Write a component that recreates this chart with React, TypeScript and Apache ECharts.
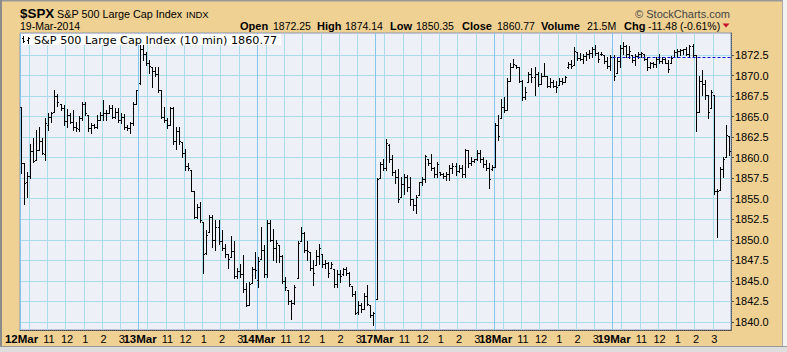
import React, { useEffect, useRef } from "react";
import * as echarts from "echarts";

const FONT = "'Liberation Sans', Arial, sans-serif";

const DAYS = ["12Mar", "13Mar", "14Mar", "17Mar", "18Mar", "19Mar"];
const TIMES = [
  "09:30", "09:40", "09:50", "10:00", "10:10", "10:20", "10:30", "10:40", "10:50",
  "11:00", "11:10", "11:20", "11:30", "11:40", "11:50", "12:00", "12:10", "12:20",
  "12:30", "12:40", "12:50", "13:00", "13:10", "13:20", "13:30", "13:40", "13:50",
  "14:00", "14:10", "14:20", "14:30", "14:40", "14:50", "15:00", "15:10", "15:20",
  "15:30", "15:40", "15:50",
];
const HOUR_LABELS: Record<string, string> = { "11:00": "11", "12:00": "12", "13:00": "1", "14:00": "2", "15:00": "3" };
const HOUR_LINES = ["10:00", "11:00", "12:00", "13:00", "14:00", "15:00"];
const Y_TICKS = [1840, 1842.5, 1845, 1847.5, 1850, 1852.5, 1855, 1857.5, 1860, 1862.5, 1865, 1867.5, 1870, 1872.5];
const PREV_CLOSE = 1872.25;

type Bar = [number, number, number, number]; // open, high, low, close

const MAR12: Bar[] = [
  [1866.15, 1866.2, 1858.1, 1859.3], [1859.3, 1859.3, 1854.4, 1856.9], [1857.0, 1858.3, 1855.2, 1857.8],
  [1857.8, 1861.7, 1857.5, 1860.8], [1860.8, 1862.4, 1859.5, 1859.6], [1859.7, 1863.4, 1859.7, 1861.0],
  [1861.0, 1863.8, 1860.9, 1862.0], [1862.0, 1862.4, 1860.5, 1860.6], [1860.5, 1864.8, 1859.7, 1864.2],
  [1864.0, 1865.4, 1863.4, 1865.0], [1865.0, 1865.6, 1864.4, 1865.4], [1865.6, 1868.3, 1865.6, 1867.5],
  [1867.5, 1867.8, 1866.3, 1866.8], [1866.5, 1866.5, 1865.8, 1866.0], [1866.0, 1866.4, 1864.0, 1864.5],
  [1864.5, 1865.9, 1863.7, 1865.2], [1865.2, 1865.5, 1864.2, 1864.4], [1864.4, 1865.8, 1863.4, 1863.8],
  [1863.8, 1864.3, 1863.2, 1863.6], [1863.5, 1865.1, 1863.2, 1864.8], [1864.8, 1866.8, 1864.6, 1866.6],
  [1866.6, 1866.8, 1865.2, 1865.4], [1865.2, 1865.2, 1863.2, 1863.6], [1863.6, 1864.2, 1863.0, 1864.0],
  [1864.0, 1864.1, 1863.6, 1863.8], [1863.8, 1865.2, 1863.6, 1864.6], [1864.6, 1865.6, 1864.6, 1865.2],
  [1865.2, 1867.0, 1864.6, 1865.4], [1865.4, 1865.8, 1864.6, 1865.5], [1865.5, 1866.4, 1865.4, 1866.0],
  [1866.0, 1866.4, 1864.8, 1865.0], [1865.0, 1866.0, 1864.8, 1865.6], [1865.6, 1866.0, 1864.4, 1864.6],
  [1864.6, 1865.4, 1864.2, 1865.0], [1865.0, 1865.3, 1863.5, 1863.8], [1863.8, 1864.0, 1863.4, 1863.6],
  [1863.6, 1864.4, 1863.0, 1864.2], [1864.2, 1866.8, 1864.0, 1866.6], [1866.6, 1868.3, 1866.6, 1868.2],
];

const MAR13: Bar[] = [
  [1869.06, 1873.7, 1869.0, 1873.2], [1873.2, 1874.4, 1871.9, 1872.6], [1872.6, 1872.9, 1871.3, 1871.6],
  [1871.6, 1871.9, 1870.3, 1871.2], [1871.0, 1871.1, 1868.6, 1870.6], [1870.6, 1871.1, 1869.9, 1870.2],
  [1870.2, 1871.1, 1868.0, 1868.2], [1868.2, 1868.2, 1864.8, 1865.0], [1865.0, 1866.2, 1864.4, 1864.6],
  [1864.6, 1864.8, 1863.6, 1864.0], [1864.0, 1866.2, 1864.0, 1866.0], [1866.0, 1866.2, 1861.7, 1862.0],
  [1862.0, 1863.8, 1861.1, 1863.2], [1863.2, 1863.8, 1861.7, 1862.0], [1861.9, 1861.9, 1860.1, 1860.6],
  [1860.6, 1861.1, 1858.5, 1859.0], [1859.0, 1859.4, 1858.5, 1858.8], [1858.5, 1858.5, 1855.9, 1856.0],
  [1855.9, 1855.9, 1852.6, 1852.8], [1852.8, 1854.4, 1852.6, 1854.0], [1854.0, 1854.6, 1852.2, 1852.4],
  [1852.2, 1852.2, 1845.9, 1848.3], [1848.4, 1851.2, 1848.3, 1850.6], [1851.0, 1853.0, 1851.0, 1852.8],
  [1852.8, 1853.0, 1849.1, 1850.0], [1850.0, 1852.4, 1848.7, 1851.6], [1851.6, 1852.4, 1849.5, 1849.9],
  [1849.9, 1851.2, 1848.7, 1849.0], [1849.0, 1849.5, 1847.9, 1848.3], [1848.3, 1848.3, 1846.5, 1847.6],
  [1847.9, 1850.4, 1847.9, 1848.6], [1848.6, 1849.9, 1845.3, 1845.6], [1845.6, 1846.5, 1845.3, 1846.2],
  [1846.2, 1847.1, 1845.5, 1845.8], [1845.8, 1848.1, 1843.6, 1844.0], [1844.0, 1844.7, 1841.9, 1842.0],
  [1842.0, 1844.9, 1842.0, 1844.6], [1844.7, 1846.7, 1844.7, 1846.4], [1846.4, 1848.5, 1845.3, 1846.34],
];

const MAR14: Bar[] = [
  [1845.07, 1847.9, 1844.3, 1847.4], [1847.7, 1851.6, 1847.7, 1848.8], [1848.8, 1849.3, 1845.5, 1845.8],
  [1845.8, 1852.44, 1845.5, 1852.0], [1852.0, 1852.4, 1849.8, 1850.0], [1850.0, 1851.3, 1847.5, 1849.0],
  [1849.0, 1850.0, 1847.3, 1849.6], [1849.4, 1849.4, 1847.3, 1848.0], [1848.0, 1848.1, 1844.7, 1845.0],
  [1845.0, 1845.5, 1843.9, 1844.2], [1843.9, 1843.9, 1842.2, 1842.5], [1842.5, 1842.6, 1840.4, 1842.3],
  [1842.3, 1844.5, 1842.2, 1844.2], [1845.3, 1849.8, 1845.3, 1849.6], [1849.8, 1851.6, 1849.8, 1850.8],
  [1850.8, 1851.0, 1848.5, 1848.8], [1848.8, 1849.8, 1847.5, 1848.6], [1848.5, 1848.5, 1846.3, 1846.6],
  [1846.6, 1847.5, 1844.5, 1846.0], [1846.9, 1848.8, 1846.9, 1848.0], [1848.0, 1849.5, 1847.1, 1849.0],
  [1848.3, 1848.3, 1846.7, 1847.0], [1847.0, 1847.5, 1846.6, 1847.2], [1847.2, 1847.3, 1845.5, 1846.0],
  [1846.6, 1847.3, 1846.5, 1847.0], [1846.4, 1846.4, 1844.2, 1844.6], [1844.6, 1846.3, 1844.2, 1845.8],
  [1845.8, 1846.3, 1844.9, 1845.6], [1845.8, 1846.6, 1845.7, 1846.4], [1846.4, 1846.7, 1845.7, 1845.9],
  [1845.9, 1846.1, 1844.4, 1844.6], [1844.4, 1844.4, 1843.1, 1843.4], [1843.4, 1843.7, 1841.0, 1841.1],
  [1841.2, 1842.5, 1841.0, 1842.0], [1842.0, 1842.3, 1841.2, 1841.5], [1841.6, 1843.5, 1841.6, 1843.2],
  [1843.2, 1844.5, 1842.0, 1842.2], [1842.0, 1842.0, 1840.6, 1840.8], [1840.8, 1841.2, 1839.57, 1841.13],
];

const MAR17: Bar[] = [
  [1842.81, 1857.5, 1842.81, 1857.4], [1857.5, 1859.5, 1857.5, 1859.2], [1859.2, 1859.9, 1858.5, 1858.8],
  [1858.8, 1862.3, 1858.5, 1861.8], [1861.6, 1861.7, 1859.5, 1859.8], [1859.8, 1860.3, 1857.9, 1858.2],
  [1858.2, 1858.5, 1856.9, 1857.6], [1857.6, 1858.6, 1854.6, 1855.0], [1855.2, 1857.7, 1855.2, 1856.8],
  [1856.8, 1858.0, 1855.6, 1857.6], [1857.6, 1857.9, 1856.0, 1856.4], [1856.4, 1857.7, 1854.2, 1855.0],
  [1855.0, 1855.0, 1853.6, 1854.2], [1854.2, 1855.4, 1853.2, 1855.2], [1855.4, 1857.1, 1855.4, 1857.0],
  [1857.0, 1857.7, 1856.7, 1857.4], [1857.4, 1860.3, 1857.1, 1860.2], [1859.9, 1859.9, 1859.1, 1859.4],
  [1859.4, 1860.5, 1858.5, 1858.8], [1858.8, 1858.9, 1857.7, 1858.0], [1858.0, 1859.5, 1857.7, 1859.2],
  [1858.3, 1858.3, 1857.9, 1858.0], [1858.0, 1858.1, 1857.5, 1857.8], [1857.8, 1858.3, 1857.3, 1858.0],
  [1858.0, 1859.1, 1857.3, 1858.8], [1858.8, 1859.3, 1858.1, 1859.0], [1859.0, 1859.3, 1857.9, 1858.4],
  [1858.4, 1859.1, 1858.3, 1858.8], [1858.8, 1859.1, 1857.7, 1858.0], [1858.0, 1861.1, 1857.7, 1861.0],
  [1860.9, 1860.9, 1858.9, 1859.4], [1859.4, 1860.1, 1859.1, 1859.6], [1859.6, 1859.9, 1859.5, 1859.8],
  [1859.8, 1860.9, 1859.7, 1860.6], [1860.6, 1860.9, 1859.5, 1859.8], [1859.8, 1860.1, 1858.9, 1859.2],
  [1859.2, 1859.7, 1858.5, 1858.8], [1858.8, 1859.3, 1856.3, 1857.4], [1858.6, 1859.1, 1858.5, 1858.83],
];

const MAR18: Bar[] = [
  [1858.92, 1864.2, 1858.92, 1864.0], [1864.0, 1865.2, 1862.1, 1862.6], [1864.8, 1867.2, 1864.8, 1866.2],
  [1866.2, 1867.4, 1865.6, 1865.8], [1865.8, 1869.7, 1865.8, 1869.4], [1869.4, 1871.5, 1869.4, 1871.0],
  [1871.0, 1872.0, 1871.0, 1871.4], [1871.3, 1871.3, 1870.9, 1871.0], [1871.0, 1871.1, 1869.2, 1869.4],
  [1869.4, 1869.5, 1867.0, 1867.4], [1867.4, 1868.6, 1867.2, 1868.0], [1869.2, 1870.5, 1869.2, 1870.2],
  [1870.2, 1870.9, 1869.2, 1869.8], [1869.8, 1871.1, 1867.6, 1870.2], [1870.2, 1870.5, 1868.8, 1869.0],
  [1869.0, 1870.3, 1869.0, 1870.0], [1870.0, 1871.5, 1869.9, 1870.0], [1869.9, 1869.9, 1868.6, 1868.8],
  [1868.8, 1869.7, 1868.6, 1869.2], [1869.2, 1869.5, 1868.6, 1868.8], [1868.8, 1869.3, 1868.0, 1868.6],
  [1868.9, 1869.7, 1868.9, 1869.4], [1869.4, 1869.7, 1869.0, 1869.2], [1869.2, 1869.9, 1869.2, 1869.8],
  [1871.0, 1871.7, 1870.9, 1871.4], [1871.4, 1871.9, 1870.9, 1871.2], [1871.3, 1873.5, 1871.3, 1873.0],
  [1872.9, 1872.9, 1871.9, 1872.2], [1872.2, 1872.8, 1871.9, 1872.0], [1872.0, 1872.6, 1871.6, 1872.4],
  [1872.4, 1872.9, 1871.9, 1872.6], [1872.6, 1873.1, 1872.1, 1872.8], [1872.8, 1873.5, 1872.3, 1873.2],
  [1873.2, 1873.76, 1872.5, 1872.8], [1872.8, 1872.9, 1871.7, 1872.0], [1872.6, 1872.9, 1872.5, 1872.6],
  [1872.5, 1872.5, 1871.5, 1871.8], [1871.8, 1872.3, 1870.9, 1871.2], [1871.2, 1872.5, 1870.7, 1872.25],
];

const MAR19: Bar[] = [
  [1872.25, 1872.5, 1869.5, 1870.0], [1870.3, 1872.3, 1870.3, 1871.8], [1871.8, 1873.7, 1871.1, 1873.4],
  [1873.4, 1874.14, 1872.7, 1873.6], [1873.6, 1873.7, 1872.3, 1872.6], [1872.6, 1873.6, 1872.1, 1873.0],
  [1872.5, 1872.5, 1871.7, 1871.9], [1871.9, 1872.7, 1871.3, 1872.4], [1872.4, 1872.9, 1872.1, 1872.6],
  [1872.6, 1872.9, 1872.3, 1872.8], [1872.7, 1872.7, 1871.9, 1872.0], [1872.0, 1872.3, 1870.7, 1871.0],
  [1871.0, 1871.7, 1870.9, 1871.5], [1871.5, 1871.7, 1871.1, 1871.4], [1871.4, 1872.3, 1871.1, 1872.0],
  [1872.0, 1872.6, 1871.5, 1871.8], [1871.8, 1872.3, 1871.5, 1872.0], [1872.0, 1872.1, 1871.5, 1871.6],
  [1871.6, 1871.9, 1870.5, 1870.8], [1871.5, 1872.4, 1871.5, 1872.2], [1872.3, 1873.1, 1872.3, 1872.9],
  [1872.9, 1873.3, 1872.3, 1873.0], [1873.0, 1873.2, 1872.5, 1873.1], [1873.1, 1873.3, 1872.7, 1873.2],
  [1873.2, 1873.5, 1872.5, 1872.6], [1872.6, 1873.7, 1872.3, 1873.6], [1873.6, 1873.9, 1872.3, 1872.5],
  [1872.5, 1872.5, 1863.2, 1865.6], [1865.6, 1869.9, 1865.6, 1869.4], [1869.4, 1870.7, 1867.6, 1869.0],
  [1869.0, 1869.5, 1867.2, 1867.6], [1867.6, 1867.6, 1864.8, 1865.6], [1866.0, 1868.2, 1866.0, 1868.0],
  [1867.6, 1867.6, 1855.6, 1855.9], [1856.0, 1856.2, 1850.35, 1856.0], [1856.1, 1858.9, 1856.1, 1858.6],
  [1858.6, 1860.1, 1857.7, 1859.8], [1860.1, 1863.96, 1860.1, 1862.8], [1862.6, 1862.7, 1860.3, 1860.77],
];

const SERIES_BY_DAY: Bar[][] = [MAR12, MAR13, MAR14, MAR17, MAR18, MAR19];

const HEADER_TITLE = "S&P 500 Large Cap Index";
const HEADER_EXCHANGE = "INDX";
const HEADER_DATE = "19-Mar-2014";
const LEGEND_TEXT = "S&P 500 Large Cap Index (10 min) 1860.77";
const QUOTE_ITEMS: [string, number, boolean][] = [
  ["Open", 240, true], ["1872.25", 273, false], ["High", 317, true], ["1874.14", 345, false],
  ["Low", 390, true], ["1850.35", 416, false], ["Close", 462, true], ["1860.77", 497, false],
  ["Volume", 541, true], ["21.5M", 587, false], ["Chg", 624, true], ["-11.48 (-0.61%)", 648, false],
];

export default function App() {
  const ref = useRef<HTMLDivElement>(null);

  useEffect(() => {
    if (!ref.current) return;
    const chart = echarts.init(ref.current, undefined, { renderer: "svg" });

    const categories = DAYS.flatMap((d) => TIMES.map((t) => `${d} ${t}`));
    const ohlc = SERIES_BY_DAY.flat().map((b, i) => [i, b[0], b[1], b[2], b[3]]);
    const lastDayStart = (DAYS.length - 1) * TIMES.length;

    const timeOf = (v: string) => v.split(" ")[1];

    const quoteTexts = QUOTE_ITEMS.map(([t, x, bold]) => ({
      type: "text",
      z: 100,
      style: {
        text: t,
        x,
        y: 26,
        verticalAlign: "middle",
        font: bold ? `bold 11px ${FONT}` : `10.5px ${FONT}`,
        fill: "#000",
      },
    }));

    const option: any = {
      animation: false,
      backgroundColor: "#efd194",
      grid: {
        left: 20,
        right: 56,
        top: 33,
        bottom: 22,
        show: true,
        backgroundColor: "#eef0f8",
        borderColor: "#8c96b4",
        borderWidth: 1,
      },
      xAxis: [
        {
          type: "category",
          data: categories,
          boundaryGap: true,
          axisLine: { show: true, lineStyle: { color: "#444", type: "dotted" } },
          axisTick: { show: false },
          axisLabel: {
            interval: (i: number, v: string) => timeOf(v) === "09:30" || HOUR_LABELS[timeOf(v)] !== undefined,
            formatter: (v: string) => {
              const [d, t] = v.split(" ");
              if (t === "09:30") return `{d|${d}}`;
              return HOUR_LABELS[t] ?? "";
            },
            margin: 3,
            color: "#000",
            fontSize: 11,
            fontFamily: FONT,
            rich: { d: { fontWeight: "bold", fontSize: 11.5, fontFamily: FONT, color: "#000" } },
          },
          splitLine: {
            show: true,
            interval: (i: number, v: string) => HOUR_LINES.includes(timeOf(v)),
            lineStyle: { color: "#aadcea", width: 1 },
          },
        },
        {
          type: "category",
          data: categories,
          boundaryGap: true,
          position: "top",
          axisLine: { show: false },
          axisTick: { show: false },
          axisLabel: { show: false },
          splitLine: {
            show: true,
            interval: (i: number, v: string) => timeOf(v) === "09:30",
            lineStyle: { color: "#84c6ea", width: 1 },
          },
        },
      ],
      yAxis: {
        type: "value",
        position: "right",
        min: 1839,
        max: 1875.2,
        axisLine: { show: true, lineStyle: { color: "#555", type: "dotted" } },
        axisTick: { show: true, length: 3, customValues: Y_TICKS, lineStyle: { color: "#555" } },
        axisLabel: {
          customValues: Y_TICKS,
          formatter: (v: number) => v.toFixed(1),
          fontSize: 11,
          fontFamily: FONT,
          color: "#000",
          margin: 4,
        },
        splitLine: { show: true, lineStyle: { color: "#aadcea", width: 1 } },
      },
      series: [
        {
          type: "custom",
          xAxisIndex: 0,
          clip: true,
          encode: { x: 0, y: [1, 2, 3, 4] },
          data: ohlc,
          renderItem: (params: any, api: any) => {
            const i = api.value(0);
            const pO = api.coord([i, api.value(1)]);
            const pH = api.coord([i, api.value(2)]);
            const pL = api.coord([i, api.value(3)]);
            const pC = api.coord([i, api.value(4)]);
            const x = Math.floor(pO[0]) + 0.5;
            const yo = Math.round(pO[1]) + 0.5;
            const yc = Math.round(pC[1]) + 0.5;
            const st = { stroke: "#000", lineWidth: 1 };
            return {
              type: "group",
              children: [
                { type: "line", shape: { x1: x, y1: Math.round(pH[1]), x2: x, y2: Math.round(pL[1]) + 1 }, style: st },
                { type: "line", shape: { x1: x - 1.5, y1: yo, x2: x, y2: yo }, style: st },
                { type: "line", shape: { x1: x, y1: yc, x2: x + 1.5, y2: yc }, style: st },
              ],
            };
          },
        },
        {
          type: "custom",
          xAxisIndex: 0,
          clip: true,
          encode: { x: 0, y: 1 },
          data: [[lastDayStart, PREV_CLOSE]],
          renderItem: (params: any, api: any) => {
            const p = api.coord([api.value(0), api.value(1)]);
            const half = api.size([1, 0])[0] / 2;
            const y = Math.round(p[1]) + 0.5;
            return {
              type: "line",
              shape: { x1: p[0] - half, y1: y, x2: params.coordSys.x + params.coordSys.width, y2: y },
              style: { stroke: "#0010cc", lineWidth: 1, lineDash: [3, 2] },
            };
          },
        },
      ],
      graphic: [
        { type: "rect", z: 100, shape: { x: 0, y: 0, width: 787, height: 1.5 }, style: { fill: "#9a9a9a" } },
        { type: "rect", z: 100, shape: { x: 0, y: 0, width: 2, height: 352 }, style: { fill: "#8c8c8c" } },
        { type: "rect", z: 100, shape: { x: 782, y: 0, width: 5, height: 352 }, style: { fill: "#f2f2f2" } },
        { type: "line", z: 100, shape: { x1: 782.5, y1: 0, x2: 782.5, y2: 347 }, style: { stroke: "#a8a8a8", lineWidth: 1 } },
        { type: "rect", z: 100, shape: { x: 0, y: 346, width: 787, height: 6 }, style: { fill: "#dedede" } },
        { type: "line", z: 100, shape: { x1: 0, y1: 346.5, x2: 787, y2: 346.5 }, style: { stroke: "#9a9a9a", lineWidth: 1 } },
        {
          type: "text", z: 100,
          style: { text: "$SPX", x: 20, y: 13.5, verticalAlign: "middle", font: `bold 13.4px ${FONT}`, fill: "#000" },
        },
        {
          type: "text", z: 100,
          style: { text: HEADER_TITLE, x: 57, y: 14, verticalAlign: "middle", font: `10.8px ${FONT}`, fill: "#000" },
        },
        {
          type: "text", z: 100,
          style: { text: HEADER_EXCHANGE, x: 186, y: 14, verticalAlign: "middle", font: `9.5px ${FONT}`, fill: "#000" },
        },
        {
          type: "text", z: 100,
          style: { text: HEADER_DATE, x: 20, y: 26, verticalAlign: "middle", font: `10.5px ${FONT}`, fill: "#000" },
        },
        {
          type: "text", z: 100,
          style: { text: "\u00A9 StockCharts.com", x: 730, y: 13.5, align: "right", verticalAlign: "middle", font: `11px ${FONT}`, fill: "#444" },
        },
        ...quoteTexts,
        {
          type: "polygon", z: 100,
          shape: { points: [[722.5, 23.5], [729.5, 23.5], [726, 27.5]] },
          style: { fill: "#c8102e" },
        },
        { type: "rect", z: 100, shape: { x: 21, y: 34, width: 260, height: 11 }, style: { fill: "#ffffff" } },
        { type: "line", z: 101, shape: { x1: 23.5, y1: 36, x2: 23.5, y2: 43 }, style: { stroke: "#000", lineWidth: 1 } },
        { type: "line", z: 101, shape: { x1: 22, y1: 38.5, x2: 23.5, y2: 38.5 }, style: { stroke: "#000", lineWidth: 1 } },
        { type: "line", z: 101, shape: { x1: 23.5, y1: 41.5, x2: 25, y2: 41.5 }, style: { stroke: "#000", lineWidth: 1 } },
        { type: "line", z: 101, shape: { x1: 28.5, y1: 37, x2: 28.5, y2: 44 }, style: { stroke: "#000", lineWidth: 1 } },
        { type: "line", z: 101, shape: { x1: 27, y1: 40.5, x2: 28.5, y2: 40.5 }, style: { stroke: "#000", lineWidth: 1 } },
        { type: "line", z: 101, shape: { x1: 28.5, y1: 38.5, x2: 30, y2: 38.5 }, style: { stroke: "#000", lineWidth: 1 } },
        {
          type: "text", z: 101,
          style: { text: LEGEND_TEXT, x: 34, y: 40.3, verticalAlign: "middle", font: `11.2px 'DejaVu Sans', Verdana, sans-serif`, fill: "#000" },
        },
      ],
    };

    chart.setOption(option);
    return () => chart.dispose();
  }, []);

  return (
    <div style={{ position: "fixed", left: 0, top: 0, width: 787, height: 352 }}>
      <div ref={ref} style={{ width: 787, height: 352 }} />
    </div>
  );
}
